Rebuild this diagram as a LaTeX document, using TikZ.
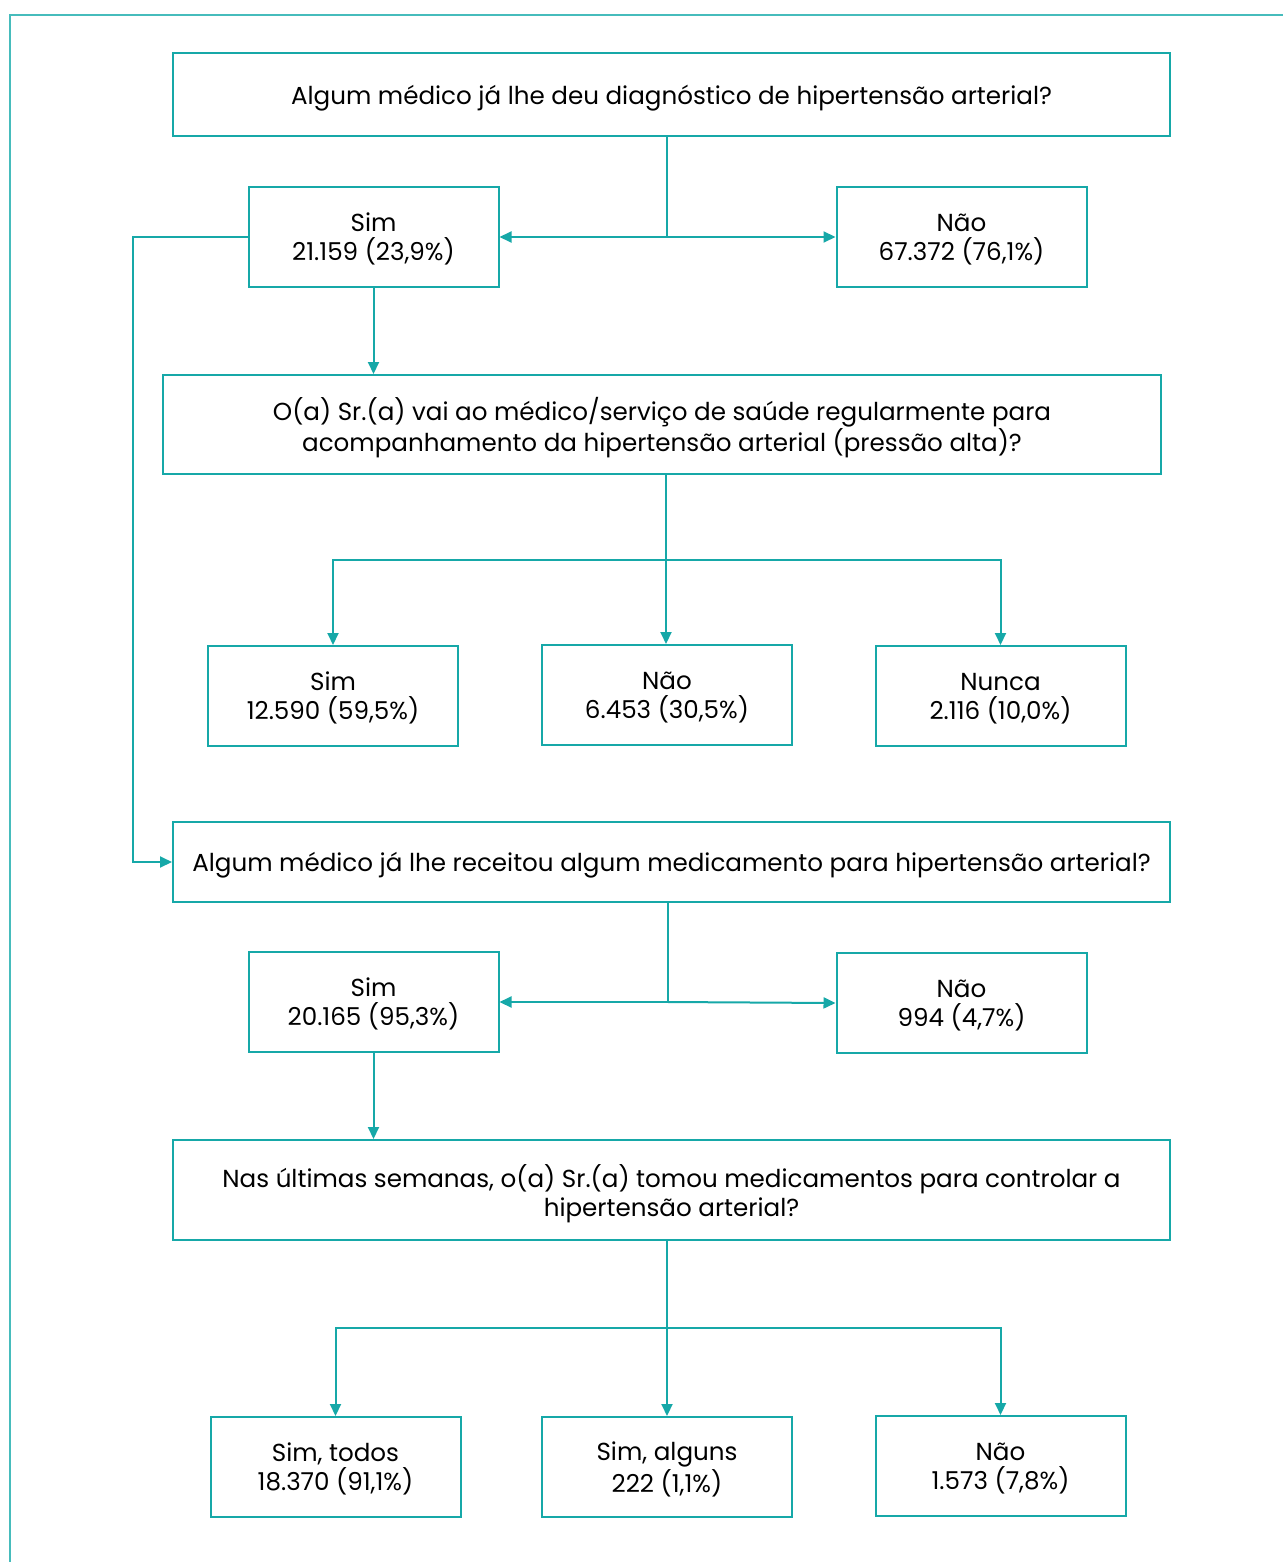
\documentclass[tikz,border=0pt]{standalone}
\usepackage{fontspec}
\setmainfont{Poppins}
\usetikzlibrary{arrows.meta}
\definecolor{tealbox}{RGB}{22,168,168}
\definecolor{tealframe}{RGB}{70,188,188}
\tikzset{%
    box/.style={draw=tealbox,line width=1pt,align=center,inner sep=2pt,
        text depth=0pt,font=\fontsize{12.3}{14.5}\selectfont},
    ansbox/.style={box,minimum width=125pt,minimum height=50pt},
    arr/.style={draw=tealbox,line width=1pt,-{Triangle[length=6pt,width=5.5pt]}},
    lnk/.style={draw=tealbox,line width=1pt}
}
\begin{document}
\begin{tikzpicture}[x=0.5pt,y=-0.5pt]
    \useasboundingbox (0,0) rectangle (1282,1562);
    \draw[tealframe,line width=1pt] (10,1580) -- (10,15) -- (1300,15);

    \node[box,minimum width=498.5pt,minimum height=41.5pt] (q1) at (671.5,94.5)
        {Algum médico já lhe deu diagnóstico de hipertensão arterial?};
    \node[ansbox] (s1) at (373.5,237) {Sim\\21.159 (23,9\%)};
    \node[ansbox] (n1) at (961.5,237) {Não\\67.372 (76,1\%)};

    \node[box,minimum width=499pt,minimum height=49.5pt] (q2) at (662,424.5)
        {O(a) Sr.(a) vai ao médico/serviço de saúde regularmente para\\acompanhamento da hipertensão arterial (pressão alta)?};
    \node[ansbox] (a1) at (333,696) {Sim\\12.590 (59,5\%)};
    \node[ansbox] (a2) at (667,695) {Não\\6.453 (30,5\%)};
    \node[ansbox] (a3) at (1000.5,696) {Nunca\\2.116 (10,0\%)};

    \node[box,minimum width=498.5pt,minimum height=40pt] (q3) at (671.5,862)
        {Algum médico já lhe receitou algum medicamento para hipertensão arterial?};
    \node[ansbox] (s3) at (373.5,1002) {Sim\\20.165 (95,3\%)};
    \node[ansbox] (n3) at (961.5,1003) {Não\\994 (4,7\%)};

    \node[box,minimum width=498.5pt,minimum height=50pt] (q4) at (671.5,1190)
        {Nas últimas semanas, o(a) Sr.(a) tomou medicamentos para controlar a\\hipertensão arterial?};
    \node[ansbox] (b1) at (335.5,1467) {Sim, todos\\18.370 (91,1\%)};
    \node[ansbox] (b2) at (667,1467) {Sim, alguns\\222 (1,1\%)};
    \node[ansbox] (b3) at (1000.5,1466) {Não\\1.573 (7,8\%)};

    \coordinate (j1) at (667,237);
    \coordinate (j2) at (666,560);
    \coordinate (j3) at (668,1002);
    \coordinate (j4) at (667,1328);
    \coordinate (k1) at (133,237);

    \draw[lnk] (q1.south -| j1) -- (j1);
    \draw[arr] (j1) -- (s1.east);
    \draw[arr] (j1) -- (n1.west);
    \draw[arr] (s1.south) -- (q2.north -| s1.south);
    \draw[arr] (s1.west) -- (k1) |- (q3.west);

    \draw[lnk] (q2.south -| j2) -- (j2);
    \draw[arr] (j2) -| (a1.north);
    \draw[arr] (j2) -- (a2.north -| j2);
    \draw[arr] (j2) -| (a3.north);

    \draw[lnk] (q3.south -| j3) -- (j3);
    \draw[arr] (j3) -- (s3.east);
    \draw[arr] (j3) -- (n3.west);
    \draw[arr] (s3.south) -- (q4.north -| s3.south);

    \draw[lnk] (q4.south -| j4) -- (j4);
    \draw[arr] (j4) -| (b1.north);
    \draw[arr] (j4) -- (b2.north -| j4);
    \draw[arr] (j4) -| (b3.north);
\end{tikzpicture}
\end{document}
